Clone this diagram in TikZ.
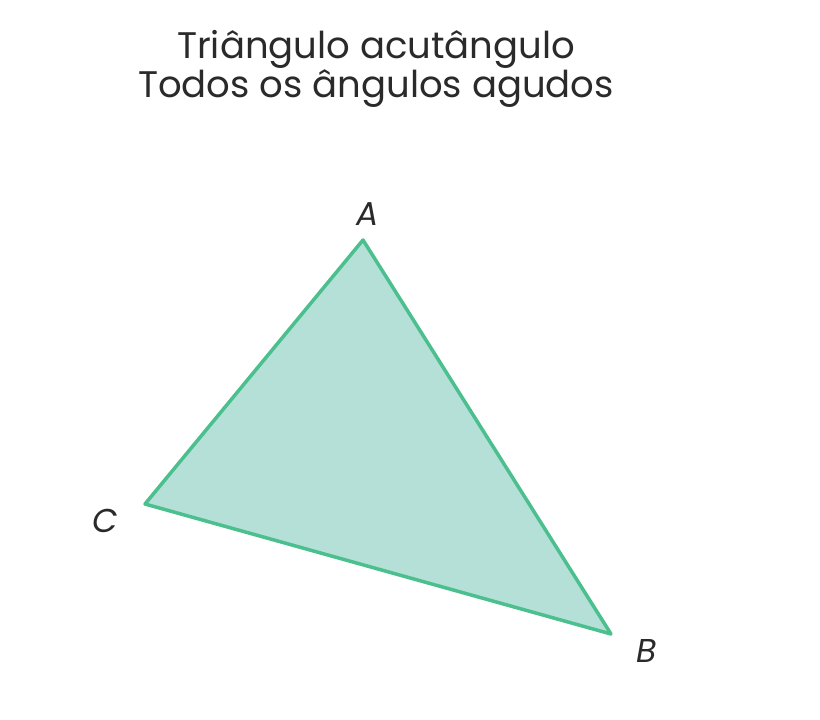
\documentclass[tikz,border=0pt]{standalone}
\usepackage{fontspec}
\setmainfont{Poppins}
\definecolor{edge}{HTML}{4CBF8F}
\definecolor{area}{HTML}{B4E0D7}
\definecolor{ink}{HTML}{2A2A2A}
\begin{document}
\begin{tikzpicture}[x=1pt,y=-1pt,
  lbl/.style={font=\fontsize{33}{36}\selectfont\itshape, text=ink, inner sep=0pt},
  ttl/.style={font=\fontsize{37}{39}\selectfont, text=ink, align=center, inner sep=0pt}]
\useasboundingbox (0,0) rectangle (820,720);
\coordinate (A) at (363,240);
\coordinate (C) at (145,504);
\coordinate (B) at (611,634);
\filldraw[fill=area, draw=edge, line width=3.5, line join=round] (A) -- (B) -- (C) -- cycle;
\node[ttl] (title) at (376,69) {Triângulo acutângulo\\Todos os ângulos agudos};
\node[lbl] (la) at (368,214) {A};
\node[lbl] (lc) at (105,521) {C};
\node[lbl] (lb) at (647,651) {B};
\end{tikzpicture}
\end{document}
